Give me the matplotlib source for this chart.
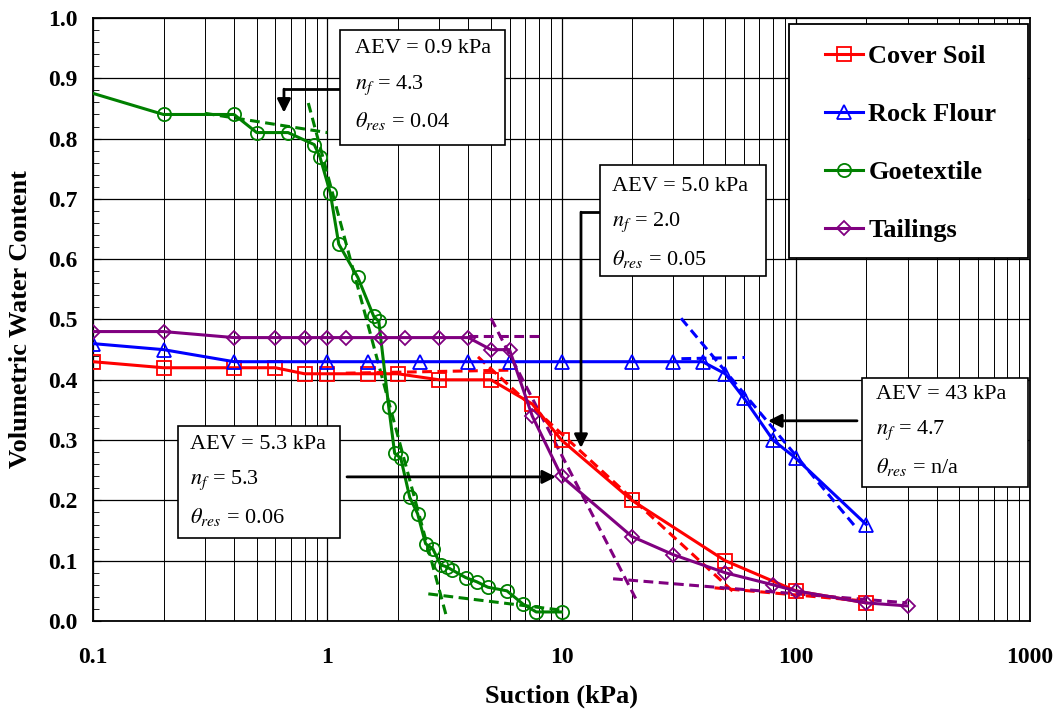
import matplotlib
matplotlib.use('Agg')
import matplotlib.pyplot as plt
from matplotlib.patches import Rectangle
from matplotlib.ticker import FixedLocator, MultipleLocator, NullFormatter

plt.rcParams['font.family'] = ['Liberation Serif', 'DejaVu Serif']
plt.rcParams['mathtext.fontset'] = 'stix'

# Measured SWCC points
cover_x = [0.1, 0.2, 0.4, 0.6, 0.8, 1, 1.5, 2, 3, 5, 7.5, 10, 20, 50, 100, 200]
cover_y = [0.43, 0.42, 0.42, 0.42, 0.41, 0.41, 0.41, 0.41, 0.40, 0.40, 0.36, 0.30, 0.20, 0.10, 0.05, 0.03]

rock_x = [0.1, 0.2, 0.4, 1, 1.5, 2.5, 4, 6, 10, 20, 30, 40, 50, 60, 80, 100, 200]
rock_y = [0.46, 0.45, 0.43, 0.43, 0.43, 0.43, 0.43, 0.43, 0.43, 0.43, 0.43, 0.43, 0.41, 0.37, 0.30, 0.27, 0.16]

geo_x = [0.1, 0.2, 0.4, 0.5, 0.68, 0.88, 0.93, 1.03, 1.12, 1.35, 1.58, 1.66, 1.83, 1.94, 2.06,
         2.25, 2.43, 2.63, 2.82, 3.05, 3.23, 3.4, 3.9, 4.35, 4.85, 5.85, 6.85, 7.8, 10]
geo_y = [0.875, 0.84, 0.84, 0.81, 0.81, 0.79, 0.77, 0.71, 0.625, 0.57, 0.505, 0.497, 0.355, 0.278, 0.27,
         0.205, 0.178, 0.128, 0.12, 0.093, 0.09, 0.085, 0.072, 0.065, 0.056, 0.05, 0.028, 0.015, 0.015]

tail_x = [0.1, 0.2, 0.4, 0.6, 0.8, 1, 1.2, 1.7, 2.15, 3, 4, 5, 6, 7.5, 10, 20, 30, 50, 80, 100, 200, 300]
tail_y = [0.48, 0.48, 0.47, 0.47, 0.47, 0.47, 0.47, 0.47, 0.47, 0.47, 0.47, 0.45, 0.45, 0.34, 0.24,
          0.14, 0.11, 0.08, 0.06, 0.05, 0.03, 0.025]

# Construction (tangent) lines, as [x0, x1], [y0, y1]
geo_fits = [([0.3, 1.0], [0.842, 0.81]), ([0.83, 3.24], [0.859, 0.005]), ([2.7, 10], [0.045, 0.018])]
cover_fits = [([1.2, 6.0], [0.411, 0.416]), ([4.4, 55], [0.438, 0.046]), ([45, 200], [0.055, 0.033])]
tail_fits = [([4, 8], [0.472, 0.472]), ([5, 21.2], [0.502, 0.03]), ([16.6, 300], [0.07, 0.03])]
rock_fits = [([32.5, 60.7], [0.435, 0.437]), ([32.4, 180], [0.502, 0.156])]

# Parameter boxes
box_texts = [
    ['AEV = 0.9 kPa', '$n_f$ = 4.3', r'$\theta_{res}$ = 0.04'],
    ['AEV = 5.0 kPa', '$n_f$ = 2.0', r'$\theta_{res}$ = 0.05'],
    ['AEV = 5.3 kPa', '$n_f$ = 5.3', r'$\theta_{res}$ = 0.06'],
    ['AEV = 43 kPa', '$n_f$ = 4.7', r'$\theta_{res}$ = n/a'],
]

fig = plt.figure(figsize=(10.58, 7.13), dpi=100)
ax = fig.add_axes([93 / 1058, 1 - 621 / 713, 937 / 1058, 603 / 713])

lw = 2.2
mk = dict(markersize=9.5, markerfacecolor='none', markeredgewidth=1.3)
ax.plot(cover_x, cover_y, '-s', color='red', lw=lw, label='Cover Soil', zorder=5, **mk)
ax.plot(rock_x, rock_y, '-^', color='blue', lw=lw, label='Rock Flour', zorder=5, **mk)
ax.plot(geo_x, geo_y, '-o', color='green', lw=lw, label='Goetextile', zorder=5,
        markevery=list(range(1, len(geo_x))), **mk)
ax.plot(tail_x, tail_y, '-D', color='purple', lw=lw, label='Tailings', zorder=5,
        markersize=7.5, markerfacecolor='none', markeredgewidth=1.3)

dash = (0, (3.2, 1.8))
for fits, c in [(geo_fits, 'green'), (cover_fits, 'red'), (tail_fits, 'purple'), (rock_fits, 'blue')]:
    for fx, fy in fits:
        ax.plot(fx, fy, color=c, lw=2.2, linestyle=dash, zorder=4)

ax.set_xscale('log')
ax.set_xlim(0.1, 1000)
ax.set_ylim(0, 1.0)
ax.xaxis.set_major_locator(FixedLocator([0.1, 1, 10, 100, 1000]))
ax.set_xticklabels(['0.1', '1', '10', '100', '1000'])
ax.xaxis.set_minor_formatter(NullFormatter())
ax.yaxis.set_major_locator(MultipleLocator(0.1))
ax.yaxis.set_minor_locator(MultipleLocator(0.02))
ax.yaxis.set_major_formatter(plt.FuncFormatter(lambda v, p: '%.1f' % v))

ax.grid(which='major', color='black', lw=0.9, zorder=0)
ax.grid(which='minor', axis='x', color='black', lw=0.7, zorder=0)
ax.set_axisbelow(True)

ax.tick_params(axis='x', which='both', direction='in', length=0, pad=19, labelsize=17)
ax.tick_params(axis='y', which='major', direction='in', length=6, pad=11, labelsize=17)
ax.tick_params(axis='y', which='minor', direction='in', length=4)
for lab in ax.get_xticklabels() + ax.get_yticklabels():
    lab.set_fontweight('bold')
for s in ax.spines.values():
    s.set_linewidth(1.3)

ax.set_xlabel('Suction (kPa)', fontsize=19, fontweight='bold', labelpad=12)
ax.set_ylabel('Volumetric Water Content', fontsize=19, fontweight='bold', labelpad=12)

# legend: frame drawn separately so the padding can match
ax.add_patch(Rectangle((0.7428, 0.6020), 0.2552, 0.3880, transform=ax.transAxes,
                       facecolor='white', edgecolor='black', lw=1.3, zorder=9))
leg = ax.legend(loc='center left', bbox_to_anchor=(0.781, 0.792), borderaxespad=0, borderpad=0,
                prop={'weight': 'bold', 'size': 19}, labelspacing=1.31, handlelength=1.45,
                handletextpad=0.2, frameon=False)
leg.set_zorder(10)

# box layout in axes fractions: (left, right, top, bottom, text x, line ys)
box_layout = [
    (0.2636, 0.4397, 0.980, 0.789, 0.2796, [0.950, 0.889, 0.829]),
    (0.5410, 0.7180, 0.756, 0.572, 0.5540, [0.721, 0.662, 0.600]),
    (0.0907, 0.2636, 0.323, 0.138, 0.1035, [0.292, 0.234, 0.172]),
    (0.8207, 0.9980, 0.403, 0.222, 0.8356, [0.376, 0.317, 0.255]),
]
for lines, (l, r, t, b, tx, tys) in zip(box_texts, box_layout):
    ax.add_patch(Rectangle((l, b), r - l, t - b, transform=ax.transAxes, facecolor='white',
                           edgecolor='black', lw=1.2, zorder=8))
    for s, ty in zip(lines, tys):
        ax.text(tx, ty, s, transform=ax.transAxes, fontsize=16, va='center', ha='left', zorder=9)

arrow = dict(arrowstyle='-|>', color='black', lw=2, mutation_scale=20, shrinkA=0, shrinkB=0)
line = dict(color='black', lw=2, transform=ax.transAxes, zorder=7)
# box A: elbow down
ax.plot([0.2636, 0.2038], [0.882, 0.882], **line)
ax.annotate('', xy=(0.2038, 0.843), xytext=(0.2038, 0.882), xycoords='axes fraction',
            arrowprops=arrow, zorder=7)
# box B: elbow down
ax.plot([0.5410, 0.5208], [0.678, 0.678], **line)
ax.annotate('', xy=(0.5208, 0.287), xytext=(0.5208, 0.678), xycoords='axes fraction',
            arrowprops=arrow, zorder=7)
# box C: right
ax.annotate('', xy=(0.4941, 0.239), xytext=(0.2711, 0.239), xycoords='axes fraction',
            arrowprops=arrow, zorder=7)
# box D: left
ax.annotate('', xy=(0.7204, 0.332), xytext=(0.8154, 0.332), xycoords='axes fraction',
            arrowprops=arrow, zorder=7)

fig.savefig('out.png', dpi=100)
